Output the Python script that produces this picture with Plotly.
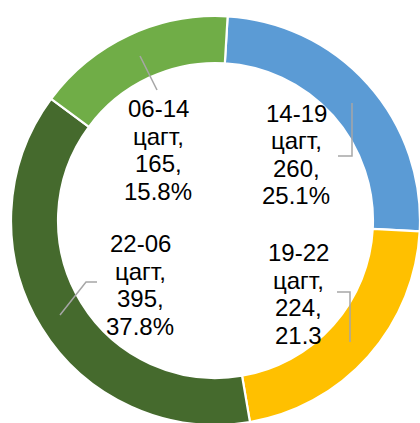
import plotly.graph_objects as go

# ---- data ----
categories = ["14-19", "19-22", "22-06", "06-14"]
unit_word = "цагт,"
values = [260, 224, 395, 165]
pct_labels = ["25.1%", "21.3", "37.8%", "15.8%"]
colors = ["#5B9BD5", "#FFC000", "#456A2D", "#70AD47"]

W, H = 420, 425  # chart runs 2px past the bottom of the 423px window, as in the reference

fig = go.Figure(go.Pie(
    values=values,
    labels=categories,
    sort=False,
    direction="clockwise",
    rotation=3.4,
    hole=0.77,
    marker=dict(colors=colors, line=dict(color="white", width=2.2)),
    textinfo="none",
    hoverinfo="label+value+percent",
    showlegend=False,
    domain=dict(x=[11 / W, 1], y=[0, 1 - 16 / H]),
))

# label block centres (pixels) and leader line paths (pixels)
label_centres = [(296, 154.5), (298, 294), (140, 285), (158, 150)]
leaders = [
    [(352, 103), (352, 156), (338, 156)],
    [(337, 292), (350, 292), (350, 342)],
    [(60, 315), (86, 282), (97, 282)],
    [(140, 56), (157, 90)],
]
pitch = 27.5
font = dict(family="Liberation Sans, Arial, sans-serif", size=24, color="black")

annotations = []
for cat, val, pct, (cx, cy) in zip(categories, values, pct_labels, label_centres):
    lines = [cat, unit_word, f"{val},", pct]
    for i, t in enumerate(lines):
        py = cy + (i - 1.5) * pitch
        annotations.append(dict(
            x=cx / W, y=1 - py / H, xref="paper", yref="paper",
            text=t, showarrow=False, xanchor="center", yanchor="middle",
            font=font,
        ))

shapes = []
for path in leaders:
    d = "M " + " L ".join(f"{x / W:.5f},{1 - y / H:.5f}" for x, y in path)
    shapes.append(dict(type="path", path=d, xref="paper", yref="paper",
                       line=dict(color="#A6A6A6", width=1.5)))

fig.update_layout(
    width=W, height=H,
    margin=dict(l=0, r=0, t=0, b=0),
    paper_bgcolor="white", plot_bgcolor="white",
    annotations=annotations, shapes=shapes,
)

fig.write_html(
    "out.html",
    config={"displayModeBar": False},
    post_script="document.body.style.margin='0';document.body.style.overflow='hidden';",
)
